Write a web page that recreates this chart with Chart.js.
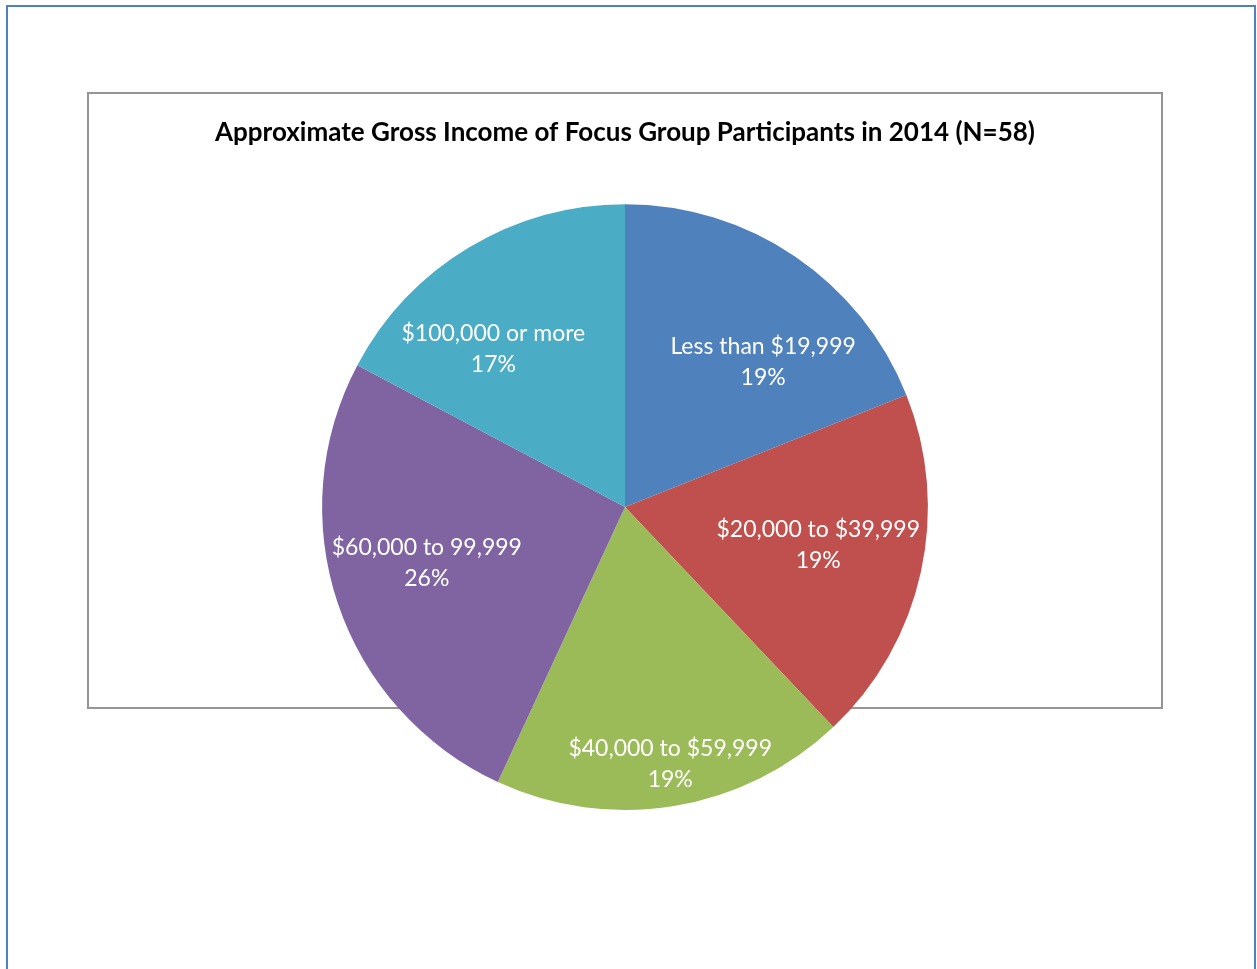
<!DOCTYPE html>
<html>
<head>
<meta charset="utf-8">
<title>Approximate Gross Income of Focus Group Participants in 2014</title>
<script src="https://cdn.jsdelivr.net/npm/chart.js@4.4.1/dist/chart.umd.min.js"></script>
<style>
  html, body {
    margin: 0;
    padding: 0;
    background: #ffffff;
    overflow: hidden;
  }
  #page {
    position: relative;
    width: 1257px;
    height: 969px;
  }
  /* blue page frame, open at the bottom */
  #frame {
    position: absolute;
    left: 6px;
    top: 5px;
    width: 1250px;
    height: 1000px;
    border: 2px solid #4f81bd;
    box-sizing: border-box;
  }
  /* grey chart box, the pie spills over its lower edge */
  #chartBox {
    position: absolute;
    left: 87px;
    top: 92px;
    width: 1076px;
    height: 617px;
    border: 2px solid #959595;
    box-sizing: border-box;
  }
  #chartWrap {
    position: absolute;
    left: 0;
    top: 0;
    width: 1257px;
    height: 969px;
  }
</style>
</head>
<body>
<div id="page">
  <div id="frame"></div>
  <div id="chartBox"></div>
  <div id="chartWrap"><canvas id="incomeChart"></canvas></div>
</div>

<script>
// Participant counts per income bracket (N = 58)
const incomeLabels = [
  "Less than $19,999",
  "$20,000 to $39,999",
  "$40,000 to $59,999",
  "$60,000 to 99,999",
  "$100,000 or more",
];
const participantCounts = [11, 11, 11, 15, 10];

const sliceColors = ["#4f81bd", "#c0504d", "#9bbb59", "#8064a2", "#4bacc6"];

// Where each label sits inside its slice: share of the slice's sweep, share of the radius
const labelSpots = [
  { along: 0.64, out: 0.66 },
  { along: 0.48, out: 0.65 },
  { along: 0.49, out: 0.86 },
  { along: 0.53, out: 0.68 },
  { along: 0.36, out: 0.68 },
];

const labelFont = '23px Lato, "Open Sans", sans-serif';

/** Draws "category / percent" inside every slice */
const sliceLabels = {
  id: "sliceLabels",
  afterDatasetsDraw(chart) {
    const ctx = chart.ctx;
    const meta = chart.getDatasetMeta(0);
    const values = chart.data.datasets[0].data;
    const total = values.reduce((a, b) => a + b, 0);

    ctx.save();
    ctx.font = labelFont;
    ctx.fillStyle = "#ffffff";
    ctx.textAlign = "center";
    ctx.textBaseline = "middle";

    meta.data.forEach((arc, i) => {
      const spot = labelSpots[i];
      const angle = arc.startAngle + (arc.endAngle - arc.startAngle) * spot.along;
      const r = arc.outerRadius * spot.out;
      const x = arc.x + Math.cos(angle) * r;
      const y = arc.y + Math.sin(angle) * r;
      const pct = Math.round((values[i] / total) * 100) + "%";
      ctx.fillText(chart.data.labels[i], x, y - 15.5);
      ctx.fillText(pct, x, y + 15.5);
    });
    ctx.restore();
  },
};

Chart.defaults.font.family = 'Lato, "Open Sans", sans-serif';

new Chart(document.getElementById("incomeChart"), {
  type: "pie",
  data: {
    labels: incomeLabels,
    datasets: [
      {
        data: participantCounts,
        backgroundColor: sliceColors,
        borderWidth: 0,
      },
    ],
  },
  options: {
    responsive: true,
    maintainAspectRatio: false,
    animation: false,
    layout: {
      padding: { top: 117, bottom: 159, left: 100, right: 107 },
    },
    plugins: {
      legend: { display: false },
      tooltip: { enabled: false },
      title: {
        display: true,
        text: "Approximate Gross Income of Focus Group Participants in 2014 (N=58)",
        color: "#000000",
        font: { size: 26, weight: "bold" },
        padding: { top: 0, bottom: 56 },
      },
    },
  },
  plugins: [sliceLabels],
});
</script>
</body>
</html>
